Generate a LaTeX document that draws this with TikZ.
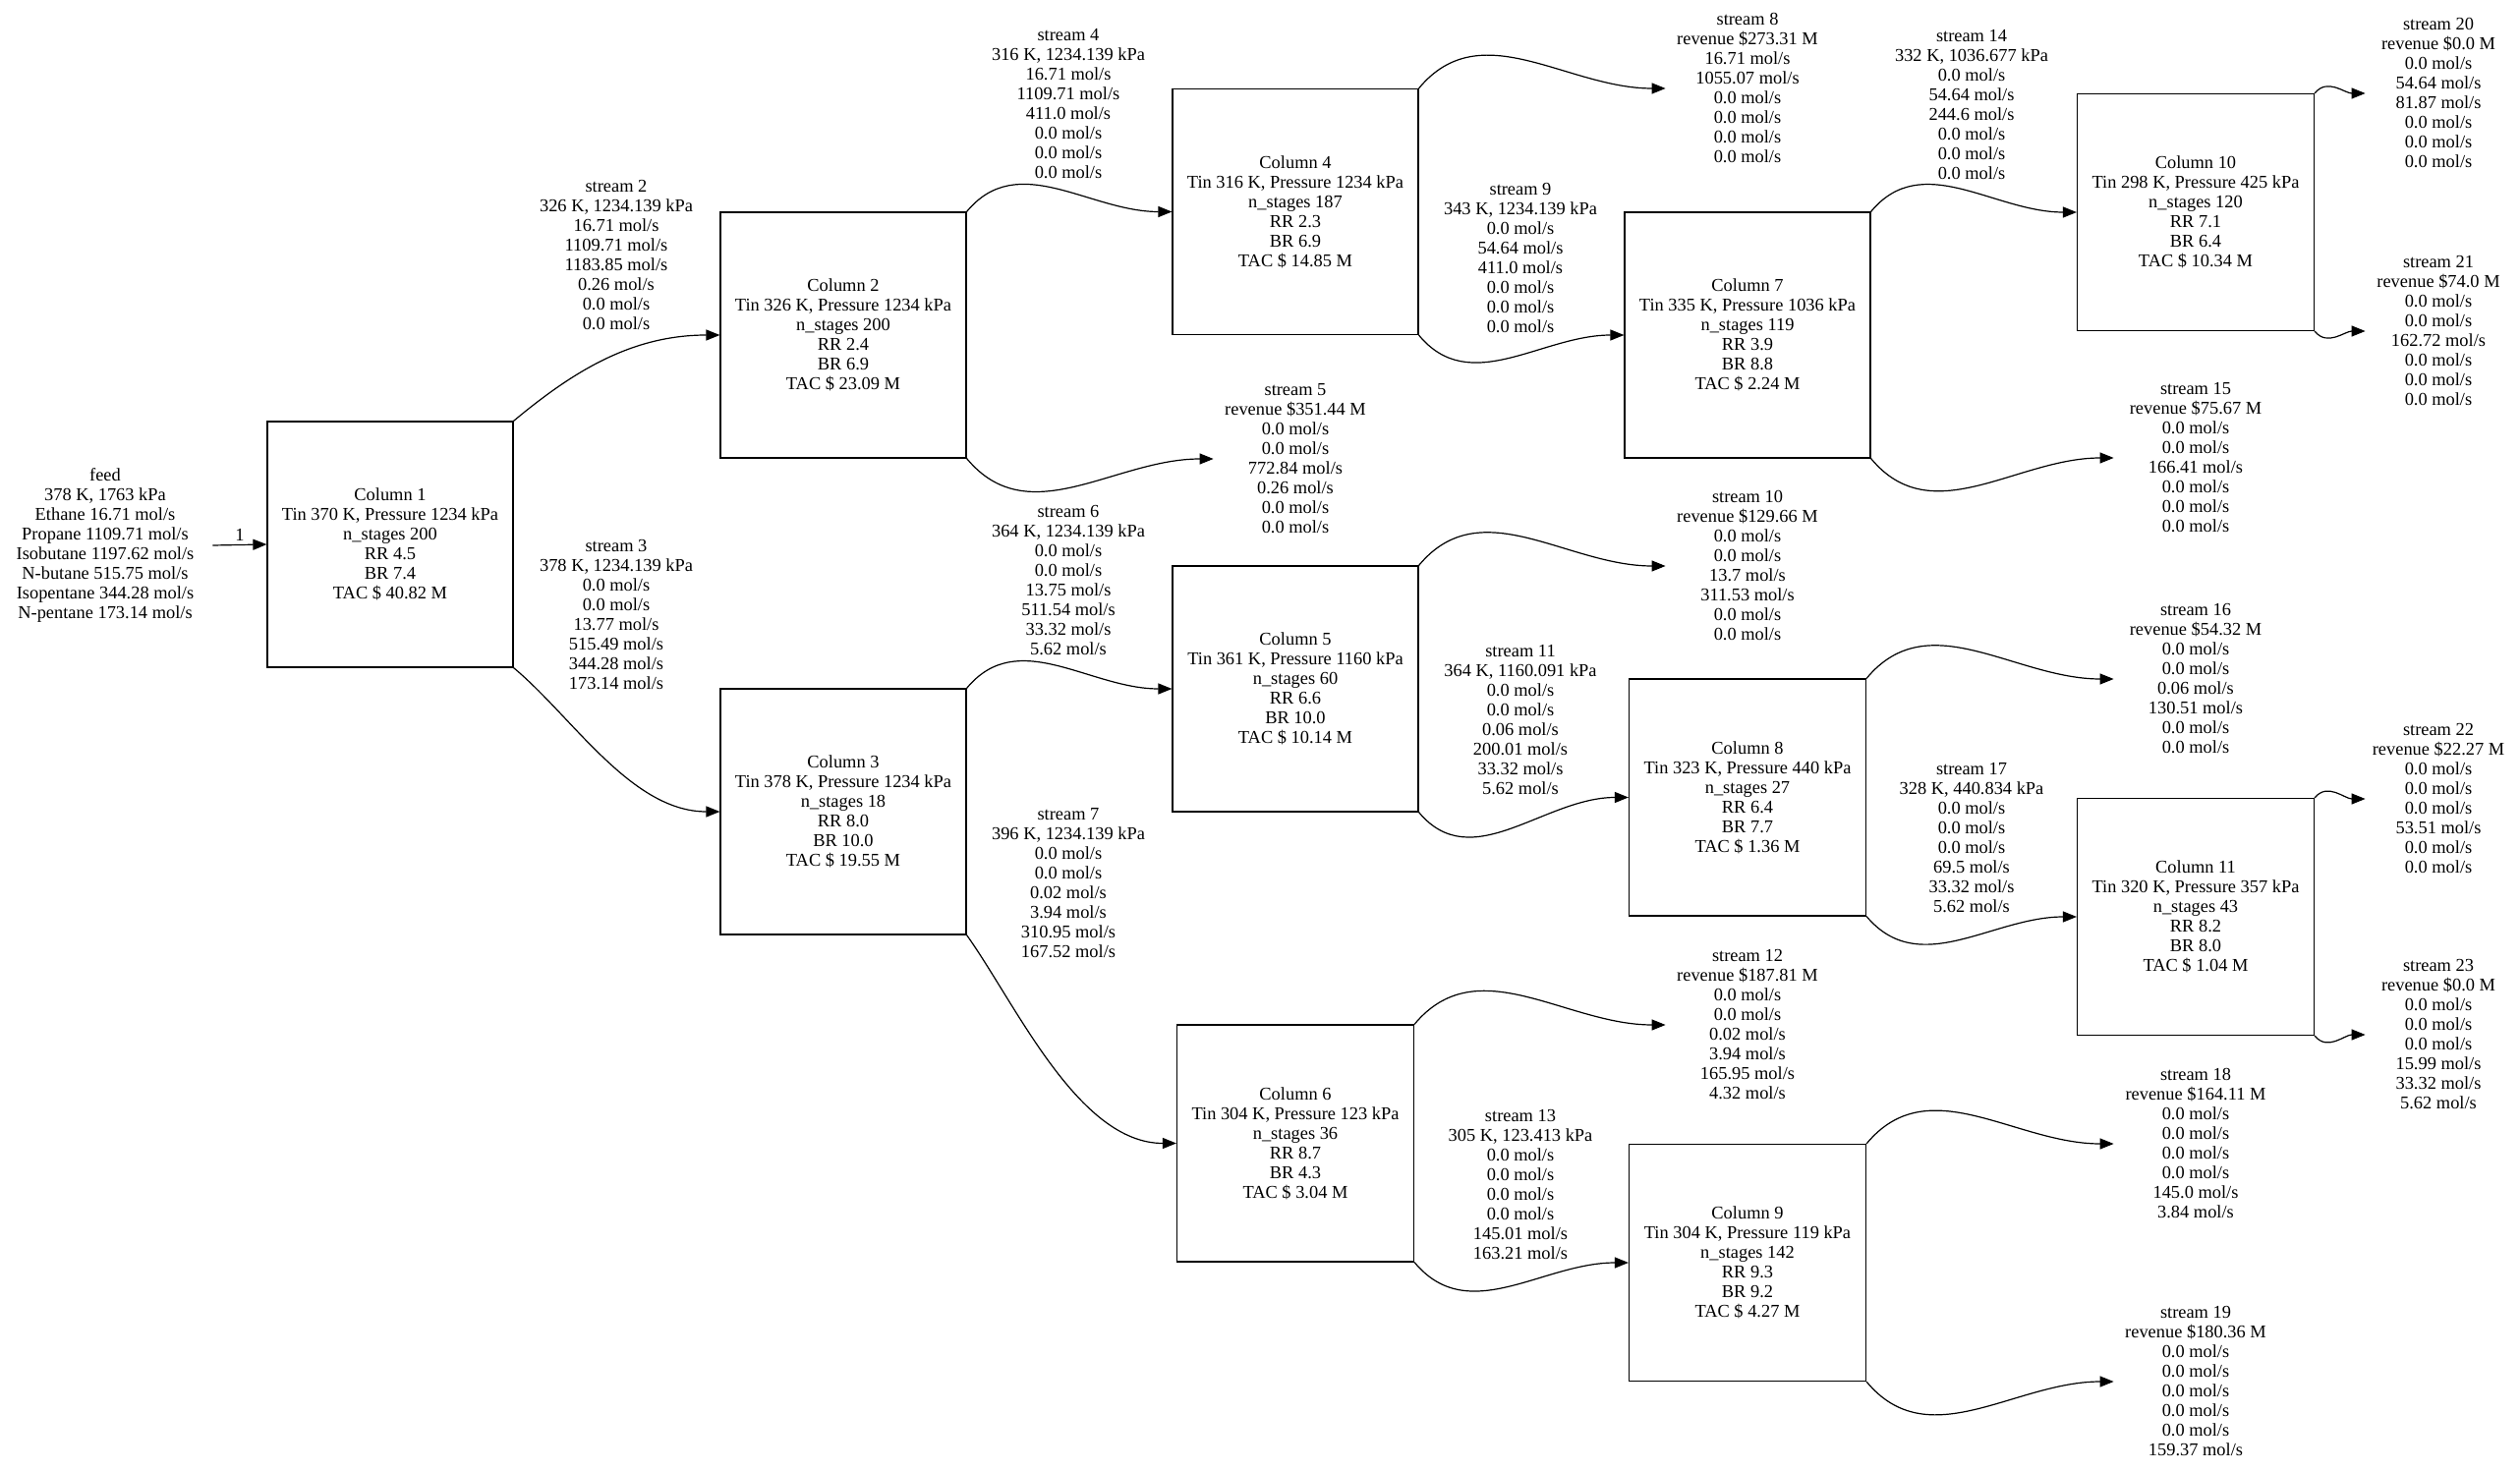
\documentclass[tikz,border=0pt]{standalone}
\usepackage{fontspec}
\setmainfont{Liberation Serif}
\usetikzlibrary{arrows.meta}
\begin{document}
\begin{tikzpicture}[x=0.5pt,y=-0.5pt,
  font=\fontsize{9.2pt}{10pt}\selectfont,
  col/.style={draw, line width=0.6pt, align=center, inner sep=0pt, minimum size=125pt},
  colsm/.style={col, minimum size=120.5pt},
  txt/.style={align=center, inner sep=0pt},
  prod/.style={txt, minimum width=83pt},
  prodend/.style={txt, minimum width=74pt},
  flow/.style={line width=0.6pt, -{Triangle[length=7pt,width=5.5pt]}}]
\fill[white] (0,0) rectangle (2564,1497);
\useasboundingbox (0,0) rectangle (2564,1497);

% feed
\node[txt, minimum width=109pt] (feed) at (107,555) {feed\\378 K, 1763 kPa\\Ethane 16.71 mol/s\\Propane 1109.71 mol/s\\Isobutane 1197.62 mol/s\\N-butane 515.75 mol/s\\Isopentane 344.28 mol/s\\N-pentane 173.14 mol/s};

% columns
\node[col] (c1) at (397,554) {Column 1\\Tin 370 K, Pressure 1234 kPa\\n\_stages 200\\RR 4.5\\BR 7.4\\TAC \$ 40.82 M};
\node[col] (c2) at (858,341) {Column 2\\Tin 326 K, Pressure 1234 kPa\\n\_stages 200\\RR 2.4\\BR 6.9\\TAC \$ 23.09 M};
\node[col] (c3) at (858,826) {Column 3\\Tin 378 K, Pressure 1234 kPa\\n\_stages 18\\RR 8.0\\BR 10.0\\TAC \$ 19.55 M};
\node[col] (c4) at (1318,215.5) {Column 4\\Tin 316 K, Pressure 1234 kPa\\n\_stages 187\\RR 2.3\\BR 6.9\\TAC \$ 14.85 M};
\node[col] (c5) at (1318,701) {Column 5\\Tin 361 K, Pressure 1160 kPa\\n\_stages 60\\RR 6.6\\BR 10.0\\TAC \$ 10.14 M};
\node[colsm] (c6) at (1318,1163.5) {Column 6\\Tin 304 K, Pressure 123 kPa\\n\_stages 36\\RR 8.7\\BR 4.3\\TAC \$ 3.04 M};
\node[col] (c7) at (1778,341) {Column 7\\Tin 335 K, Pressure 1036 kPa\\n\_stages 119\\RR 3.9\\BR 8.8\\TAC \$ 2.24 M};
\node[colsm] (c8) at (1778,811.5) {Column 8\\Tin 323 K, Pressure 440 kPa\\n\_stages 27\\RR 6.4\\BR 7.7\\TAC \$ 1.36 M};
\node[colsm] (c9) at (1778,1285) {Column 9\\Tin 304 K, Pressure 119 kPa\\n\_stages 142\\RR 9.3\\BR 9.2\\TAC \$ 4.27 M};
\node[colsm] (c10) at (2234,216) {Column 10\\Tin 298 K, Pressure 425 kPa\\n\_stages 120\\RR 7.1\\BR 6.4\\TAC \$ 10.34 M};
\node[colsm] (c11) at (2234,933) {Column 11\\Tin 320 K, Pressure 357 kPa\\n\_stages 43\\RR 8.2\\BR 8.0\\TAC \$ 1.04 M};

% product streams
\node[prod] (s5) at (1318,467) {stream 5\\revenue \$351.44 M\\0.0 mol/s\\0.0 mol/s\\772.84 mol/s\\0.26 mol/s\\0.0 mol/s\\0.0 mol/s};
\node[prod] (s8) at (1778,90) {stream 8\\revenue \$273.31 M\\16.71 mol/s\\1055.07 mol/s\\0.0 mol/s\\0.0 mol/s\\0.0 mol/s\\0.0 mol/s};
\node[prod] (s10) at (1778,576) {stream 10\\revenue \$129.66 M\\0.0 mol/s\\0.0 mol/s\\13.7 mol/s\\311.53 mol/s\\0.0 mol/s\\0.0 mol/s};
\node[prod] (s12) at (1778,1043) {stream 12\\revenue \$187.81 M\\0.0 mol/s\\0.0 mol/s\\0.02 mol/s\\3.94 mol/s\\165.95 mol/s\\4.32 mol/s};
\node[prod] (s15) at (2234,466) {stream 15\\revenue \$75.67 M\\0.0 mol/s\\0.0 mol/s\\166.41 mol/s\\0.0 mol/s\\0.0 mol/s\\0.0 mol/s};
\node[prod] (s16) at (2234,691) {stream 16\\revenue \$54.32 M\\0.0 mol/s\\0.0 mol/s\\0.06 mol/s\\130.51 mol/s\\0.0 mol/s\\0.0 mol/s};
\node[prod] (s18) at (2234,1164) {stream 18\\revenue \$164.11 M\\0.0 mol/s\\0.0 mol/s\\0.0 mol/s\\0.0 mol/s\\145.0 mol/s\\3.84 mol/s};
\node[prod] (s19) at (2234,1406) {stream 19\\revenue \$180.36 M\\0.0 mol/s\\0.0 mol/s\\0.0 mol/s\\0.0 mol/s\\0.0 mol/s\\159.37 mol/s};
\node[prodend] (s20) at (2481,95) {stream 20\\revenue \$0.0 M\\0.0 mol/s\\54.64 mol/s\\81.87 mol/s\\0.0 mol/s\\0.0 mol/s\\0.0 mol/s};
\node[prodend] (s21) at (2481,337) {stream 21\\revenue \$74.0 M\\0.0 mol/s\\0.0 mol/s\\162.72 mol/s\\0.0 mol/s\\0.0 mol/s\\0.0 mol/s};
\node[prodend] (s22) at (2481,813) {stream 22\\revenue \$22.27 M\\0.0 mol/s\\0.0 mol/s\\0.0 mol/s\\53.51 mol/s\\0.0 mol/s\\0.0 mol/s};
\node[prodend] (s23) at (2481,1053) {stream 23\\revenue \$0.0 M\\0.0 mol/s\\0.0 mol/s\\0.0 mol/s\\15.99 mol/s\\33.32 mol/s\\5.62 mol/s};

% labels of the internal streams
\node[txt] (l2) at (627,260) {stream 2\\326 K, 1234.139 kPa\\16.71 mol/s\\1109.71 mol/s\\1183.85 mol/s\\0.26 mol/s\\0.0 mol/s\\0.0 mol/s};
\node[txt] (l3) at (627,626) {stream 3\\378 K, 1234.139 kPa\\0.0 mol/s\\0.0 mol/s\\13.77 mol/s\\515.49 mol/s\\344.28 mol/s\\173.14 mol/s};
\node[txt] (l4) at (1087,106) {stream 4\\316 K, 1234.139 kPa\\16.71 mol/s\\1109.71 mol/s\\411.0 mol/s\\0.0 mol/s\\0.0 mol/s\\0.0 mol/s};
\node[txt] (l6) at (1087,591) {stream 6\\364 K, 1234.139 kPa\\0.0 mol/s\\0.0 mol/s\\13.75 mol/s\\511.54 mol/s\\33.32 mol/s\\5.62 mol/s};
\node[txt] (l7) at (1087,899) {stream 7\\396 K, 1234.139 kPa\\0.0 mol/s\\0.0 mol/s\\0.02 mol/s\\3.94 mol/s\\310.95 mol/s\\167.52 mol/s};
\node[txt] (l9) at (1547,263) {stream 9\\343 K, 1234.139 kPa\\0.0 mol/s\\54.64 mol/s\\411.0 mol/s\\0.0 mol/s\\0.0 mol/s\\0.0 mol/s};
\node[txt] (l11) at (1547,733) {stream 11\\364 K, 1160.091 kPa\\0.0 mol/s\\0.0 mol/s\\0.06 mol/s\\200.01 mol/s\\33.32 mol/s\\5.62 mol/s};
\node[txt] (l13) at (1547,1206) {stream 13\\305 K, 123.413 kPa\\0.0 mol/s\\0.0 mol/s\\0.0 mol/s\\0.0 mol/s\\145.01 mol/s\\163.21 mol/s};
\node[txt] (l14) at (2006,107) {stream 14\\332 K, 1036.677 kPa\\0.0 mol/s\\54.64 mol/s\\244.6 mol/s\\0.0 mol/s\\0.0 mol/s\\0.0 mol/s};
\node[txt] (l17) at (2006,853) {stream 17\\328 K, 440.834 kPa\\0.0 mol/s\\0.0 mol/s\\0.0 mol/s\\69.5 mol/s\\33.32 mol/s\\5.62 mol/s};

% connectors
\draw[flow] (feed.east) -- node[midway, above=1.5pt, inner sep=0pt] (n1) {1} (c1.west);
\draw[flow] (c1.north east) .. controls +(60,-50) and +(-90,0) .. (c2.west);
\draw[flow] (c1.south east) .. controls +(60,50) and +(-90,0) .. (c3.west);
\draw[flow] (c2.north east) .. controls +(52,-63) and +(-84,0) .. (c4.west);
\draw[flow] (c2.south east) .. controls +(63,76) and +(-101,0) .. (s5.west);
\draw[flow] (c3.north east) .. controls +(52,-63) and +(-84,0) .. (c5.west);
\draw[flow] (c3.south east) .. controls +(50,70) and +(-100,0) .. (c6.west);
\draw[flow] (c4.north east) .. controls +(63,-76) and +(-101,0) .. (s8.west);
\draw[flow] (c4.south east) .. controls +(52,63) and +(-84,0) .. (c7.west);
\draw[flow] (c5.north east) .. controls +(63,-76) and +(-101,0) .. (s10.west);
\draw[flow] (c5.south east) .. controls +(54,65) and +(-86,0) .. (c8.west);
\draw[flow] (c6.north east) .. controls +(64,-77) and +(-102,0) .. (s12.west);
\draw[flow] (c6.south east) .. controls +(55,66) and +(-88,0) .. (c9.west);
\draw[flow] (c7.north east) .. controls +(52,-63) and +(-84,0) .. (c10.west);
\draw[flow] (c7.south east) .. controls +(62,75) and +(-99,0) .. (s15.west);
\draw[flow] (c8.north east) .. controls +(63,-76) and +(-101,0) .. (s16.west);
\draw[flow] (c8.south east) .. controls +(54,64) and +(-86,0) .. (c11.west);
\draw[flow] (c9.north east) .. controls +(63,-76) and +(-101,0) .. (s18.west);
\draw[flow] (c9.south east) .. controls +(63,76) and +(-101,0) .. (s19.west);
\draw[flow] (c10.north east) .. controls +(13,-16) and +(-21,0) .. (s20.west);
\draw[flow] (c10.south east) .. controls +(13,16) and +(-21,0) .. (s21.west);
\draw[flow] (c11.north east) .. controls +(13,-16) and +(-21,0) .. (s22.west);
\draw[flow] (c11.south east) .. controls +(13,16) and +(-21,0) .. (s23.west);
\end{tikzpicture}
\end{document}
